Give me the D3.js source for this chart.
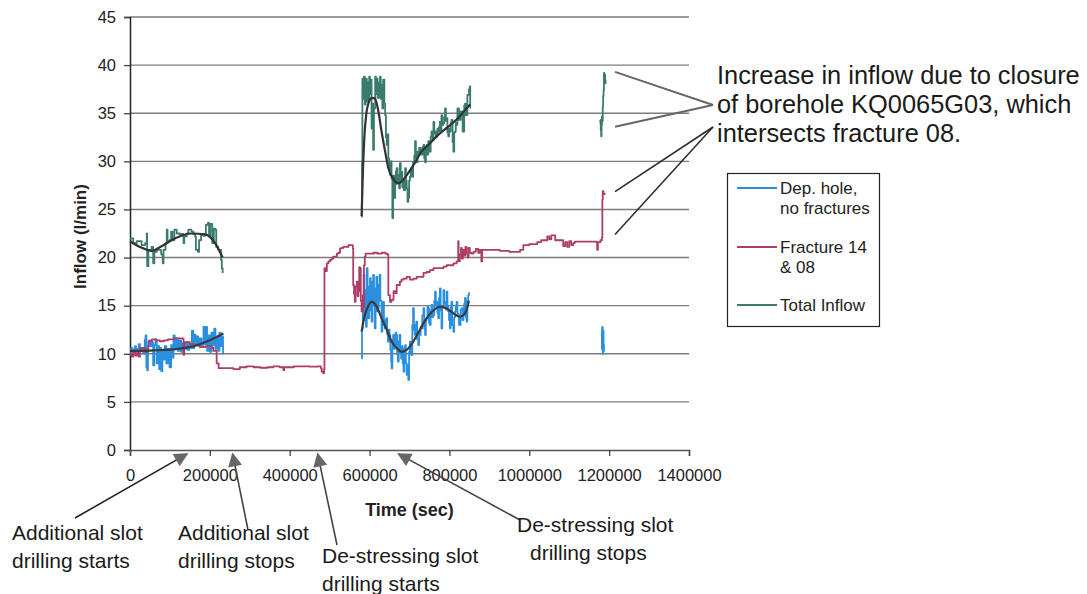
<!DOCTYPE html>
<html>
<head>
<meta charset="utf-8">
<script src="https://cdn.jsdelivr.net/npm/d3@7"></script>
<style>
  html, body { margin: 0; padding: 0; background: #fff; }
  svg { display: block; font-family: "Liberation Sans", Arial, sans-serif; }
</style>
</head>
<body>
<svg id="chart" width="1087" height="594"></svg>
<script>
// Axis ticks
const yTicks = [0, 5, 10, 15, 20, 25, 30, 35, 40, 45];
const xTicks = [0, 200000, 400000, 600000, 800000, 1000000, 1200000, 1400000];

// Series: time in thousands of seconds, inflow in l/min; null breaks the line
const depHoleTimeK = [
  0, 3, 6, 9, 12, 15, 19, 22, 25, 29, 33, 37, 39, 41, 43, 45, 48, 52, 55, 58, 61, 64, 67, 70, 73, 76, 78, 81, 84, 87,
  91, 95, 99, 103, 106, 109, 112, 116, 120, 124, 128, 132, 136, 140, 144, 148, 152, 155, 158, 161, 164, 167, 171, 175,
  179, 184, 187, 190, 193, 197, 200, 204, 208, 211, 214, 217, 221, 224, 227, 230, 233, 234,
  null,
  580, 581, 583, 585, 587, 589, 591, 593, 595, 597, 599, 601, 603, 605, 607, 609, 611, 613, 615, 617, 619, 621, 623, 625,
  627, 630, 632, 634, 636, 638, 640, 642, 644, 646, 648, 650, 652, 654, 655, 657, 659, 661, 663, 665, 667, 669, 671, 673,
  675, 677, 679, 681, 683, 685, 687, 689, 691, 693, 695, 697, 699, 701, 703, 705, 707, 709, 711, 713, 715, 717, 719, 722,
  724, 726, 728, 730, 732, 735, 737, 739, 741, 743, 745, 747, 749, 751, 753, 755, 757, 759, 762, 764, 766, 768, 770, 772,
  774, 776, 778, 780, 782, 785, 787, 789, 791, 793, 795, 797, 799, 801, 803, 805, 807, 810, 812, 814, 816, 818, 820, 822,
  824, 826, 828, 831, 833, 835, 837, 839, 841, 843, 845, 847, 849,
  null,
  1181, 1182, 1183, 1184, 1185, 1186, 1187
];
const depHoleFlow = [
  10.2, 10.6, 9.9, 10.4, 10.8, 10.2, 10.5, 11.0, 10.3, 10.6, 10.0, 11.5, 11.9, 8.6, 8.3, 10.8, 11.4, 10.8, 11.2, 8.8, 10.9, 11.5, 9.0, 10.8, 8.4, 10.6, 8.2, 10.3, 9.4, 10.8,
  9.0, 10.5, 8.6, 10.9, 9.6, 11.9, 10.6, 11.6, 10.3, 11.4, 10.2, 11.1, 10.5, 11.2, 10.4, 11.0, 10.6, 12.4, 10.6, 12.0, 10.9, 11.8, 10.8, 11.6,
  10.7, 12.8, 11.0, 12.8, 10.3, 11.9, 10.2, 12.2, 10.9, 12.6, 10.5, 11.8, 10.3, 12.2, 10.8, 11.8, 10.0, 10.0,
  null,
  9.5, 12.6, 14.7, 18.2, 13.5, 16.6, 12.8, 18.9, 14.0, 13.7, 17.0, 17.85, 14.5, 13.35, 17.5, 18.2, 15.0, 12.65, 16.8, 18.0, 14.4, 14.73, 17.2, 18.2,
  15.5, 12.3, 14.0, 15.4, 13.0, 12.65, 13.5, 13.7, 12.0, 11.26, 12.5, 11.96, 10.4, 9.2, 8.49, 11.5, 11.96, 10.5, 10.9, 12.2, 11.96, 10.0, 9.2, 11.3,
  11.96, 10.2, 9.5, 10.8, 9.0, 8.14, 10.5, 10.9, 9.0, 7.8, 8.8, 7.28, 10.2, 11.26, 10.0, 9.87, 13.0, 14.73, 12.5, 11.96, 13.0, 13.35, 11.5, 10.9,
  12.3, 11.96, 12.8, 12.65, 14.0, 14.73, 12.6, 11.96, 13.5, 13.7, 14.9, 14.73, 13.2, 13.0, 14.5, 15.07, 13.8, 14.03, 15.5, 16.46, 15.0, 15.4, 14.2, 13.7,
  15.8, 16.8, 14.5, 12.65, 15.0, 16.6, 15.2, 15.4, 14.6, 16.46, 15.0, 14.4, 13.5, 12.65, 14.8, 15.4, 13.0, 12.3, 13.8, 14.4, 15.0, 15.4, 14.2, 14.03,
  13.0, 13.0, 14.6, 14.73, 13.5, 14.03, 15.2, 15.8, 13.8, 13.35, 15.5, 16.1, 16.4,
  null,
  12.6, 10.5, 12.8, 10.0, 12.4, 10.3, 11.0
];

const fractureTimeK = [
  0, 4, 8, 13, 18, 22, 25, 33, 37, 42, 46, 55, 65, 75, 85, 95, 109, 120, 133, 134, 136, 150, 159, 175, 190, 205, 209, 217, 222,
  240, 259, 275, 292, 310, 326, 345, 359, 375, 384, 386, 392, 410, 430, 450, 470, 478, 480, 484, 486,
  487, 489, 493, 497, 501, 505, 509, 514, 518, 522, 526, 530, 534, 539, 543, 547, 551, 555, 558, 559, 561, 563, 565, 568,
  570, 572, 574, 576, 578, 580, 583, 584, 586, 588, 590, 600, 610, 620, 630, 640, 645, 647, 651, 655, 660, 664, 668, 676,
  680, 685, 693, 701, 710, 718, 726, 735, 743, 751, 760, 768, 776, 785, 793, 801, 810, 818, 822, 823, 826, 829, 831, 834,
  837, 840, 843, 846, 848, 851, 855, 860, 866, 872, 876, 880, 882, 900, 926, 950, 977, 985, 1000, 1020, 1030, 1045, 1050,
  1055, 1065, 1077, 1085, 1090, 1095, 1100, 1105, 1110, 1114, 1130, 1150, 1169, 1170, 1172, 1178, 1182, 1183, 1184, 1186, 1189
];
const fractureFlow = [
  10.0, 9.7, 10.2, 9.8, 10.1, 9.7, 10.6, 10.6, 10.2, 10.2, 11.3, 11.5, 11.4, 11.3, 11.4, 11.5, 11.6, 11.6, 11.6, 9.9, 11.2, 11.0, 10.9, 10.7, 10.8, 10.6, 10.3, 9.0, 8.5,
  8.5, 8.4, 8.6, 8.7, 8.6, 8.55, 8.6, 8.7, 8.6, 8.3, 8.6, 8.6, 8.7, 8.7, 8.66, 8.7, 8.5, 8.14, 7.97, 8.4,
  18.9, 18.6, 19.4, 19.6, 19.75, 19.9, 20.1, 20.1, 20.4, 20.5, 20.96, 21.0, 21.1, 21.1, 21.1, 21.3, 21.3, 21.3, 20.96, 17.15, 16.2, 15.4, 17.0, 17.5,
  16.0, 16.5, 19.0, 18.9, 15.5, 14.4, 16.1, 14.9, 19.2, 20.1, 20.4, 20.4, 20.5, 20.4, 20.5, 20.4, 20.3, 16.1, 15.4, 15.6, 16.5, 16.3, 17.15, 17.5,
  17.7, 17.8, 18.0, 17.7, 17.8, 18.0, 18.0, 18.4, 18.5, 18.7, 18.9, 18.9, 18.9, 19.06, 19.2, 19.2, 19.4, 19.6, 21.7, 19.6, 20.3, 21.0, 19.9, 20.8,
  20.2, 21.1, 20.4, 20.0, 21.0, 20.5, 20.4, 20.6, 20.9, 20.5, 20.8, 19.6, 20.8, 20.8, 20.7, 20.6, 20.8, 21.3, 21.4, 21.6, 21.8, 22.2, 21.9,
  22.3, 21.8, 21.8, 21.2, 21.6, 21.1, 21.7, 21.3, 21.5, 21.65, 21.65, 21.65, 21.6, 20.8, 21.6, 21.8, 22.1, 26.0, 26.9, 26.6, 26.7
];

const totalTimeK = [
  0, 4, 8, 17, 21, 29, 38, 41, 42, 43, 46, 50, 54, 58, 61, 67, 71, 78, 79, 82, 84, 89, 92, 94, 99, 103, 106, 111, 117, 121,
  125, 129, 134, 136, 142, 146, 150, 154, 159, 163, 165, 170, 173, 178, 184, 188, 190, 195, 198, 201, 206, 210, 213, 216,
  221, 225, 228, 230, 232,
  null,
  580, 581, 582, 584, 586, 588, 590, 593, 595, 597, 599, 601, 603, 605, 607, 609, 611, 614, 616, 618, 620, 622, 624, 626,
  628, 630, 632, 634, 637, 639, 641, 643, 645, 647, 649, 651, 653, 655, 657, 659, 662, 664, 666, 668, 670, 672, 674, 676,
  678, 680, 682, 684, 686, 689, 691, 693, 695, 697, 699, 701, 703, 705, 707, 709, 712, 714, 716, 718, 720, 722, 724, 726,
  728, 730, 733, 735, 737, 739, 741, 743, 745, 747, 749, 751, 753, 755, 758, 760, 762, 764, 766, 768, 770, 772, 774, 776,
  778, 780, 782, 785, 787, 789, 791, 793, 795, 797, 799, 801, 803, 805, 808, 810, 812, 814, 816, 818, 820, 822, 824, 826,
  828, 831, 833, 835, 837, 839, 841, 843, 845, 847, 849, 851, 852,
  null,
  1177, 1178, 1179, 1180, 1181, 1182, 1183, 1184, 1185, 1186, 1187, 1188, 1189, 1190, 1191
];
const totalFlow = [
  22.0, 22.0, 21.5, 21.7, 21.7, 21.3, 21.5, 21.5, 22.5, 19.1, 20.8, 20.8, 21.1, 19.4, 20.6, 20.8, 20.8, 20.4, 20.3, 19.4, 20.8, 21.5, 22.9, 21.7, 21.8, 22.7, 21.8, 22.9, 22.5, 22.5,
  22.35, 22.45, 21.5, 22.2, 22.5, 22.9, 22.9, 22.7, 22.45, 22.2, 20.8, 20.6, 21.8, 22.35, 22.25, 22.5, 23.4, 23.6, 22.2, 23.5, 21.5, 23.0, 22.9, 21.1,
  20.8, 20.8, 19.75, 18.9, 18.4,
  null,
  24.25, 30.0, 38.6, 36.5, 38.8, 35.9, 38.6, 36.2, 38.2, 36.2, 38.8, 37.0, 38.5, 33.4, 36.0, 31.2, 35.5, 38.8, 37.0, 38.6, 36.6, 36.6, 38.2, 38.8,
  36.5, 37.95, 35.5, 38.5, 36.0, 34.8, 32.5, 31.7, 32.8, 30.3, 29.5, 28.6, 30.0, 28.2, 24.1, 28.5, 26.2, 27.6, 29.0, 29.3, 27.8, 28.6, 27.2, 29.8,
  28.0, 28.9, 27.3, 28.2, 27.0, 29.3, 28.0, 27.2, 25.8, 26.2, 28.0, 28.4, 29.0, 29.3, 28.4, 29.9, 30.6, 32.1, 30.3, 29.9, 31.0, 30.7, 31.4, 31.4,
  30.7, 30.7, 31.5, 31.7, 30.3, 29.9, 31.5, 31.7, 30.7, 32.1, 31.5, 31.0, 32.6, 33.1, 32.2, 34.1, 32.9, 33.1, 32.5, 32.8, 33.4, 33.1, 33.6, 34.1,
  33.2, 34.8, 33.8, 33.97, 34.6, 35.5, 34.2, 34.5, 33.0, 32.6, 33.4, 33.1, 34.0, 34.3, 32.0, 31.0, 33.0, 33.1, 34.0, 33.8, 35.5, 35.5, 34.3, 34.3,
  35.2, 35.2, 33.1, 33.1, 35.8, 36.0, 34.8, 34.8, 36.9, 36.9, 37.5, 37.8, 35.5,
  null,
  34.3, 34.0, 33.2, 32.6, 33.8, 34.7, 34.2, 35.7, 36.8, 37.4, 39.2, 38.4, 39.0, 38.1, 38.5
];

// Smoothed trend curves
const totalTrendTimeK = [0, 25, 54, 80, 113, 154, 188, 213, 232,
  null,
  580, 583, 587, 592, 597, 602, 607, 614, 622, 630, 639, 647, 659, 672, 685, 697, 714, 730, 747, 772, 797, 822, 847, 852];
const totalTrendFlow = [21.7, 21.1, 20.7, 21.2, 22.0, 22.5, 22.4, 21.5, 20.0,
  null,
  24.3, 28.5, 32.5, 35.0, 36.0, 36.5, 36.6, 36.5, 35.2, 33.1, 31.0, 29.3, 28.2, 27.7, 28.1, 28.8, 29.9, 31.0, 31.7, 32.75, 33.6, 34.5, 35.7, 35.9];

const depHoleTrendTimeK = [0, 60, 120, 160, 200, 234,
  null,
  580, 588, 597, 605, 618, 630, 643, 655, 668, 680, 693, 710, 726, 743, 760, 776, 793, 810, 826, 839, 849];
const depHoleTrendFlow = [10.3, 10.35, 10.5, 10.8, 11.4, 12.1,
  null,
  12.3, 14.0, 15.0, 15.4, 14.9, 13.7, 12.5, 11.3, 10.6, 10.2, 10.4, 11.3, 12.5, 13.7, 14.5, 14.9, 14.7, 14.2, 13.85, 14.2, 15.5];

// Legend entries
const legendLabels = [["Dep. hole,", "no fractures"], ["Fracture 14", "& 08"], ["Total Inflow"]];
const seriesColors = ["#2b8fe0", "#ad3d66", "#3a7b70"];

// Annotations (time in seconds, inflow in l/min where anchored to data)
const closureText = ["Increase in inflow due to closure", "of borehole KQ0065G03, which", "intersects fracture 08."];
const closureTargets = [[1214700, 39.3], [1214700, 33.6], [1214700, 26.85], [1214700, 22.4]];
const eventTimes = [143000, 257000, 470000, 672000];
const eventLabels = [
  ["Additional slot", "drilling starts"],
  ["Additional slot", "drilling stops"],
  ["De-stressing slot", "drilling starts"],
  ["De-stressing slot", "drilling stops"]
];

const svg = d3.select("#chart");
const margin = { left: 130, right: 398, top: 17, bottom: 144 };
const W = 1087, H = 594;

const x = d3.scaleLinear().domain([0, 1400000]).range([margin.left, W - margin.right]);
const y = d3.scaleLinear().domain([0, 45]).range([H - margin.bottom, margin.top]);

svg.append("rect").attr("width", W).attr("height", H).attr("fill", "#fff");

// Horizontal gridlines
svg.append("g")
  .selectAll("line")
  .data(yTicks.filter(d => d > 0))
  .join("line")
  .attr("x1", x(0)).attr("x2", x(1400000))
  .attr("y1", d => y(d)).attr("y2", d => y(d))
  .attr("stroke", "#7c7c7c").attr("stroke-width", 1.4);

// Axes
const yAxis = d3.axisLeft(y).tickValues(yTicks).tickSize(6).tickPadding(8).tickFormat(d3.format("d"));
const gy = svg.append("g").attr("transform", `translate(${x(0)},0)`).call(yAxis);
gy.select(".domain").attr("stroke", "#222").attr("stroke-width", 1.5);
gy.selectAll(".tick line").attr("stroke", "#444").attr("stroke-width", 1.3);
gy.selectAll(".tick text").attr("font-size", 16.5).attr("fill", "#222")
  .attr("font-family", "Liberation Sans, Arial, sans-serif");

const xAxis = d3.axisBottom(x).tickValues(xTicks).tickSize(6).tickPadding(13).tickFormat(d3.format("d"));
const gx = svg.append("g").attr("transform", `translate(0,${y(0)})`).call(xAxis);
gx.select(".domain").attr("stroke", "#555").attr("stroke-width", 1.5);
gx.selectAll(".tick line").attr("stroke", "#444").attr("stroke-width", 1.3);
gx.selectAll(".tick text").attr("font-size", 16.5).attr("fill", "#222")
  .attr("font-family", "Liberation Sans, Arial, sans-serif");

// Axis titles
svg.append("text")
  .attr("transform", `translate(86,${(y(0) + y(45)) / 2 + 3}) rotate(-90)`)
  .attr("text-anchor", "middle")
  .attr("font-size", 17).attr("font-weight", "bold").attr("fill", "#222")
  .text("Inflow (l/min)");
svg.append("text")
  .attr("x", (x(0) + x(1400000)) / 2).attr("y", 516)
  .attr("text-anchor", "middle")
  .attr("font-size", 18).attr("font-weight", "bold").attr("fill", "#222")
  .text("Time (sec)");

// Series lines
const toPoints = (times, values) => times.map((t, i) => (t === null ? null : [t * 1000, values[i]]));
const stepLine = d3.line()
  .defined(d => d !== null)
  .x(d => x(d[0])).y(d => y(d[1]))
  .curve(d3.curveStepAfter);
const smoothLine = d3.line()
  .defined(d => d !== null)
  .x(d => x(d[0])).y(d => y(d[1]))
  .curve(d3.curveMonotoneX);

const plot = svg.append("g").attr("fill", "none").attr("stroke-linejoin", "round");

plot.append("path").attr("d", stepLine(toPoints(totalTimeK, totalFlow)))
  .attr("stroke", seriesColors[2]).attr("stroke-width", 1.8);
plot.append("path").attr("d", stepLine(toPoints(depHoleTimeK, depHoleFlow)))
  .attr("stroke", seriesColors[0]).attr("stroke-width", 1.8);
plot.append("path").attr("d", stepLine(toPoints(fractureTimeK, fractureFlow)))
  .attr("stroke", seriesColors[1]).attr("stroke-width", 1.8);
plot.append("path").attr("d", smoothLine(toPoints(totalTrendTimeK, totalTrendFlow)))
  .attr("stroke", "#333").attr("stroke-width", 2.2);
plot.append("path").attr("d", smoothLine(toPoints(depHoleTrendTimeK, depHoleTrendFlow)))
  .attr("stroke", "#3a3a3a").attr("stroke-width", 2.2);

// Legend
const legend = svg.append("g");
legend.append("rect")
  .attr("x", 727.5).attr("y", 173.5).attr("width", 152).attr("height", 153)
  .attr("fill", "#fff").attr("stroke", "#222").attr("stroke-width", 1.2);
const legendRows = [194, 253, 311];
legendLabels.forEach((lines, i) => {
  const by = legendRows[i];
  legend.append("line")
    .attr("x1", 737).attr("x2", 777).attr("y1", by - 6).attr("y2", by - 6)
    .attr("stroke", seriesColors[i]).attr("stroke-width", 2);
  lines.forEach((s, j) => {
    legend.append("text")
      .attr("x", 780).attr("y", by + j * 19.5)
      .attr("font-size", 17).attr("fill", "#222")
      .text(s);
  });
});

// Closure callout
const callout = svg.append("g");
closureTargets.forEach((p, i) => {
  const end = i < 2 ? [713, 105] : [713, 127];
  callout.append("line")
    .attr("x1", x(p[0])).attr("y1", y(p[1]))
    .attr("x2", end[0]).attr("y2", end[1])
    .attr("stroke", i < 2 ? "#666" : "#2a2a2a").attr("stroke-width", i < 2 ? 2 : 1.5);
});
closureText.forEach((s, i) => {
  callout.append("text")
    .attr("x", 717).attr("y", 84 + i * 29)
    .attr("font-size", 25.4).attr("fill", "#1a1a1a")
    .text(s);
});

// Drilling event arrows
const defs = svg.append("defs");
defs.append("marker")
  .attr("id", "arrowhead")
  .attr("viewBox", "0 0 10 10")
  .attr("refX", 9).attr("refY", 5)
  .attr("markerWidth", 18).attr("markerHeight", 14)
  .attr("markerUnits", "userSpaceOnUse")
  .attr("orient", "auto")
  .append("path").attr("d", "M0,0 L10,5 L0,10 z").attr("fill", "#666");

const tails = [[75, 518], [248, 530], [337, 545], [520, 520]];
const labelPos = [[12, 540], [178, 540], [322, 563], [517, 532]];
const arrows = svg.append("g");
eventTimes.forEach((t, i) => {
  arrows.append("line")
    .attr("x1", tails[i][0]).attr("y1", tails[i][1])
    .attr("x2", x(t)).attr("y2", y(-0.4))
    .attr("stroke", i === 0 ? "#222" : "#444").attr("stroke-width", 1.6)
    .attr("marker-end", "url(#arrowhead)");
  eventLabels[i].forEach((s, j) => {
    arrows.append("text")
      .attr("x", labelPos[i][0] + (i === 3 && j === 1 ? 13 : 0))
      .attr("y", labelPos[i][1] + j * 28)
      .attr("font-size", 21).attr("fill", "#1a1a1a")
      .text(s);
  });
});
</script>
</body>
</html>
